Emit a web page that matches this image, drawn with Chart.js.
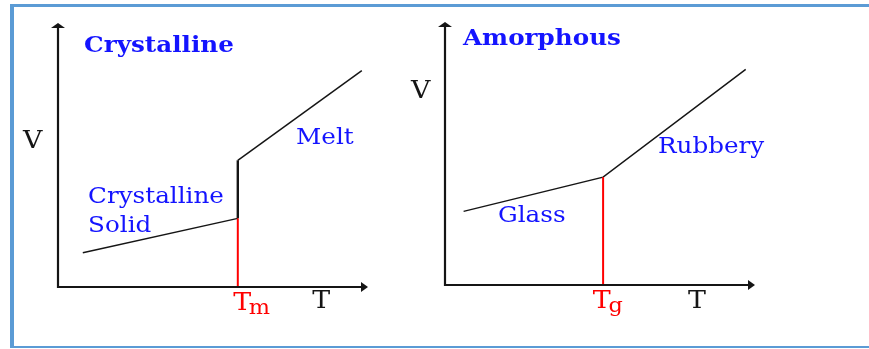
<!DOCTYPE html>
<html>
<head>
<meta charset="utf-8">
<script src="https://cdn.jsdelivr.net/npm/chart.js@4.4.1/dist/chart.umd.min.js"></script>
<style>
  body { margin: 0; background: #fff; }
  #wrap { position: relative; width: 869px; height: 349px; overflow: hidden; }
  #frame { position: absolute; left: 10px; top: 4px; width: 900px; height: 339px;
           border-top: 3px solid #5b9bd5; border-left: 4px solid #5b9bd5; border-bottom: 2px solid #5b9bd5; }
  canvas { position: absolute; top: 0; }
</style>
</head>
<body>
<div id="wrap">
  <div id="frame"></div>
  <canvas id="crysChart" width="400" height="349" style="left:0"></canvas>
  <canvas id="amorChart" width="469" height="349" style="left:400px"></canvas>
</div>
<script>
// crystalline: V against T, with the jump at Tm
const crysT = [8, 58, 58, 98];
const crysV = [13, 26, 48, 82];
const tmT = 58;
const tmV = 26;

// amorphous: glass then rubbery, kink at Tg
const amorT = [6, 51, 97];
const amorV = [28, 41, 82];
const tgT = 51;
const tgV = 41;

const axisLabels = { y: "V", x: "T" };

const blue = "#1414ff";
const red = "#ff0000";
const ink = "#151515";
const serif = "'DejaVu Serif', 'Liberation Serif', serif";
const stretch = 1.12; // old bitmap font is wider than DejaVu

function pts(xs, ys) {
  return xs.map((x, i) => ({ x: x, y: ys[i] }));
}

// axes with arrow heads + text labels
const diagram = {
  id: "diagram",
  afterDatasetsDraw(chart, args, opts) {
    const c = chart.ctx;
    const sx = chart.scales.x, sy = chart.scales.y;
    const x0 = sx.getPixelForValue(0), y0 = sy.getPixelForValue(0);
    const x1 = sx.getPixelForValue(100), y1 = sy.getPixelForValue(100);
    c.save();
    c.strokeStyle = ink;
    c.fillStyle = ink;
    c.lineWidth = 2.2;
    c.beginPath();
    c.moveTo(x0, y1 + 4);
    c.lineTo(x0, y0);
    c.lineTo(x1 - 6, y0);
    c.stroke();
    c.beginPath();
    c.moveTo(x0, y1); c.lineTo(x0 - 7, y1 + 5); c.lineTo(x0 + 7, y1 + 5); c.closePath();
    c.fill();
    c.beginPath();
    c.moveTo(x1, y0); c.lineTo(x1 - 7, y0 - 5); c.lineTo(x1 - 7, y0 + 5); c.closePath();
    c.fill();

    c.textBaseline = "alphabetic";
    c.textAlign = "left";
    opts.texts.forEach(t => {
      const px = sx.getPixelForValue(t.x), py = sy.getPixelForValue(t.y);
      c.save();
      c.translate(px, py);
      c.scale(stretch, 1);
      c.font = (t.bold ? "bold " : "") + t.size + "px " + serif;
      c.fillStyle = t.color;
      c.fillText(t.text, 0, 0);
      if (t.sub) {
        const w = c.measureText(t.text).width;
        c.font = (t.size - 4) + "px " + serif;
        c.fillText(t.sub, w - 2, 4);
      }
      c.restore();
    });
    c.restore();
  }
};

function makeChart(id, pad, datasets, texts) {
  return new Chart(document.getElementById(id), {
    type: "scatter",
    data: { datasets: datasets },
    options: {
      responsive: false,
      animation: false,
      layout: { padding: pad },
      plugins: { legend: { display: false }, tooltip: { enabled: false }, diagram: { texts: texts } },
      scales: {
        x: { type: "linear", min: 0, max: 100, display: false },
        y: { type: "linear", min: 0, max: 100, display: false }
      }
    },
    plugins: [diagram]
  });
}

// the jump at Tm is drawn heavier than the sloped parts
const jumpWidth = ctx => (ctx.p0.parsed.x === ctx.p1.parsed.x ? 2.4 : 1.5);

makeChart("crysChart", { left: 58, right: 32, top: 23, bottom: 62 }, [
  { data: pts([tmT, tmT], [0, tmV]), showLine: true, borderColor: red, borderWidth: 2, pointRadius: 0 },
  { data: pts(crysT, crysV), showLine: true, borderColor: ink, borderWidth: 1.5, pointRadius: 0,
    segment: { borderWidth: jumpWidth } }
], [
  { text: "Crystalline", x: 8.4, y: 89, size: 22, bold: true, color: blue },
  { text: axisLabels.y, x: -11.3, y: 52.7, size: 24, color: ink },
  { text: "Melt", x: 76.8, y: 54.2, size: 22, color: blue },
  { text: "Crystalline", x: 9.7, y: 31.8, size: 22, color: blue },
  { text: "Solid", x: 9.7, y: 20.8, size: 22, color: blue },
  { text: "T", sub: "m", x: 56.5, y: -8.7, size: 24, color: red },
  { text: axisLabels.x, x: 82, y: -8, size: 24, color: ink }
]);

makeChart("amorChart", { left: 45, right: 114, top: 22, bottom: 64 }, [
  { data: pts([tgT, tgT], [0, tgV]), showLine: true, borderColor: red, borderWidth: 2, pointRadius: 0 },
  { data: pts(amorT, amorV), showLine: true, borderColor: ink, borderWidth: 1.5, pointRadius: 0 }
], [
  { text: "Amorphous", x: 5.8, y: 91.3, size: 22, bold: true, color: blue },
  { text: axisLabels.y, x: -11, y: 71.1, size: 24, color: ink },
  { text: "Glass", x: 17.1, y: 24, size: 22, color: blue },
  { text: "Rubbery", x: 68.7, y: 50.2, size: 22, color: blue },
  { text: "T", sub: "g", x: 47.7, y: -8.7, size: 24, color: red },
  { text: axisLabels.x, x: 78.4, y: -8.7, size: 24, color: ink }
]);
</script>
</body>
</html>
